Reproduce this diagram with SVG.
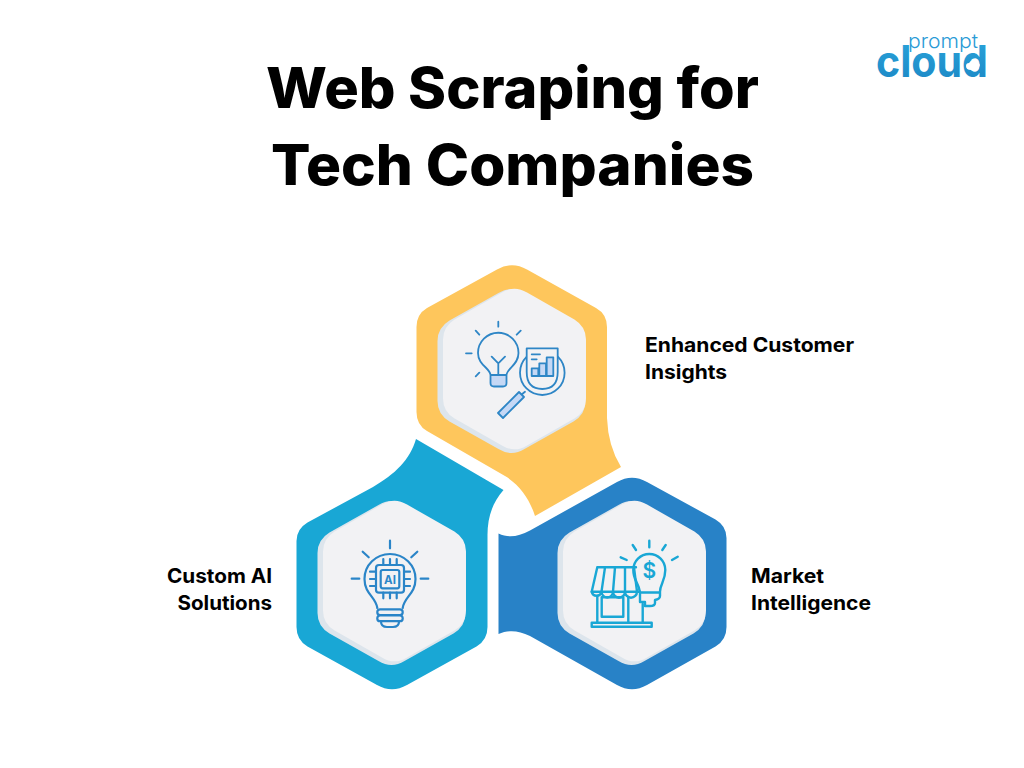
<svg xmlns="http://www.w3.org/2000/svg" width="1024" height="768" viewBox="0 0 1024 768">
<defs>
<linearGradient id="lg" x1="0" y1="0" x2="0" y2="1"><stop offset="0" stop-color="#2ba6dc"/><stop offset="1" stop-color="#1b86c4"/></linearGradient>
<path id="inner" d="M-13 -78Q0 -86 13 -78L62 -50.500Q74 -43.300 74 -30V30Q74 43.300 62 50.500L13 78Q0 86 -13 78L-62 50.500Q-74 43.300 -74 30V-30Q-74 -43.300 -62 -50.500Z"/>
</defs>
<style>
text{font-family:"Inter","Liberation Sans",sans-serif;fill:#000}
.t{font-size:56px;font-weight:800}
.l{font-size:20px;font-weight:700}
.plate{fill:#f2f2f4}
.shade{fill:#dde5ec}
.i{fill:none;stroke-width:1.8;stroke-linecap:round;stroke-linejoin:round}
.a{stroke:#2e86c6}
.b{stroke:#2a85c8;stroke-width:2.2}
.c{stroke:#19a7d5;stroke-width:2.4}
.f{fill:#c5d8f5}
</style>
<rect width="1024" height="768" fill="#fff"/>
<g id="title">
<text class="t" x="266" y="108" textLength="493" lengthAdjust="spacingAndGlyphs">Web Scraping for</text>
<text class="t" x="271" y="185" textLength="483" lengthAdjust="spacingAndGlyphs">Tech Companies</text>
</g>
<g id="logo">
<text x="876" y="76.500" font-size="44" font-weight="700" style="fill:url(#lg)" textLength="112" lengthAdjust="spacingAndGlyphs">cloud</text>
<text x="908" y="48" font-size="20" font-weight="300" style="fill:#2a9bd6" textLength="70" lengthAdjust="spacingAndGlyphs">prompt</text>
<path d="M966 66q0-3 3-3q2-3 5-2q3-1 4 2q3 1 1 4q0 3-4 3q-2 1-4 0q-5 0-5-4Z" fill="#fff"/>
</g>
<g id="node-insights">
<path fill="#fec65c" d="M497 269.500Q512 261 527 269.500L596 308Q607 314.200 607 327V418Q608 446 621 467L535 516C530 500 520 485 505 476L427 431Q416.500 425 416.500 412V327Q416.500 314.200 427 308Z"/>
<use href="#inner" class="shade" transform="translate(511.500 371)"/>
<use href="#inner" class="plate" transform="translate(514.500 369) scale(.966 .98)"/>
<g class="i a">
<path class="f" stroke="none" d="M490.500 375H506V383Q506 386.500 503 386.500H493Q490.500 386.500 490.500 383Z"/>
<path d="M490.500 375C490 368 478 365 478 353A20 20 0 0 1 518.500 353C518.500 365 507 368 506.500 375ZM490.500 375V383Q490.500 386.500 494 386.500H503Q506.500 386.500 506.500 383V375M498.300 375V363.300L491.700 356.700M498.300 363.300L505 356.700M498.300 321.700V326.700M475.700 330.700L479.300 334.700M520.700 330.700L516.700 334.700M466 353.300H471.700M475.700 376.300L479.300 372.700"/>
<circle cx="542.300" cy="372.700" r="22.300"/>
<path d="M526.700 348.300H557.700V372Q557.700 389 542.300 389Q526.700 389 526.700 372Z" fill="#f2f2f4"/>
<path d="M531.700 354.300H540M531.700 359.300H536.700M525 391.700L521 395"/>
<path class="f" d="M531.700 368.300H538.300V376H531.700ZM539.300 363.300H546V376H539.300ZM546.700 357.300H553.300V376H546.700Z"/>
<path class="f" d="M519 392L524 397L503 418L498 413Z"/>
</g>
</g>
<g id="node-ai">
<path fill="#19a7d5" d="M416 439L503.500 490C492 503 487.500 518 487.500 535V627Q487.500 640 476.500 646.500L407 685Q392 693.500 377 685L307.500 646.500Q296.500 640 296.500 627V541Q296.500 529 307.500 522.500L373 487C395 474 410 460 416 439Z"/>
<use href="#inner" class="shade" transform="translate(391.500 583)"/>
<use href="#inner" class="plate" transform="translate(394.500 581) scale(.966 .98)"/>
<g class="i b">
<path d="M390 540.700V548.300M362.700 551.700L368.700 557.300M417.300 551.700L411.300 557.300M351.700 578.700H359.300M420.700 578.700H428.300"/>
<path d="M377.300 608C376 597 364.500 594 364.500 579A25.500 25 0 0 1 415.500 579C415.500 594 404 597 402.700 608"/>
<rect x="377.300" y="609.300" width="25.400" height="5.700" rx="2.800"/>
<rect x="377.300" y="615.500" width="25.400" height="5.700" rx="2.800"/>
<path d="M381 621.500Q381 627 387 627H393Q399 627 399 621.500"/>
<rect x="376" y="565" width="28" height="27.700" rx="3"/>
<rect x="380.700" y="570" width="18.600" height="18.300" rx="2"/>
<path d="M383.300 559V565M390 559V565M396.700 559V565M383.300 592.700V598.300M390 592.700V598.300M396.700 592.700V598.300M370 571.700H376M370 579H376M370 586H376M404 571.700H410M404 579H410M404 586H410"/>
</g>
<text x="390" y="583.500" font-size="11.500" font-weight="700" text-anchor="middle" style="fill:#2a85c8">AI</text>
</g>
<g id="node-market">
<path fill="#2882c7" d="M617 482Q632 473.500 647 482L715.500 519.500Q726.500 526 726.500 538V627Q726.500 640 715.500 646.500L647 685Q632 693.500 617 685L530 636C518 630 508 630 498.500 634V533.500C508 538 518 537 530 530.500Z"/>
<use href="#inner" class="shade" transform="translate(631.500 583)"/>
<use href="#inner" class="plate" transform="translate(634.500 581) scale(.966 .98)"/>
<g class="i c">
<path d="M649.300 540.700V547.300M632.700 545L636 550M665.700 545L662.300 550M620.700 557.300L626.700 560M677.700 556.700L672 560"/>
<path d="M640 592.500C639 583 633.300 581 633.300 570A16 16 0 0 1 665.300 570C665.300 581 660 584 660 591.700V596Q660 599 655 600V603Q655 606 650 606H645V602H640ZM640 592.500H660"/>
<path d="M597.300 567.300H636M597.300 567.300L591.700 591.700M591.700 591.700H640M605 567.300L601.500 591.700M615 567.300L613 591.700M625 567.300L625 591.700M634 567.300L637 591.700"/>
<path d="M591.700 591.700A5 5 0 0 0 601.500 591.700A5.700 5.700 0 0 0 613 591.700A6 6 0 0 0 625 591.700A6 6 0 0 0 637 591.700"/>
<path d="M597.300 596V622.700M642.700 604V622.700M628.300 597V622.700"/>
<rect x="601.700" y="597.300" width="21.600" height="19.400"/>
<rect x="591.700" y="622.700" width="60" height="4"/>
</g>
<text x="649.300" y="578" font-size="21" font-weight="600" text-anchor="middle" style="fill:#19a7d5">$</text>
</g>
<g id="labels">
<text class="l" x="645" y="352" textLength="209" lengthAdjust="spacingAndGlyphs">Enhanced Customer</text>
<text class="l" x="645" y="379" textLength="82" lengthAdjust="spacingAndGlyphs">Insights</text>
<text class="l" x="167" y="583" textLength="105" lengthAdjust="spacingAndGlyphs">Custom AI</text>
<text class="l" x="177.500" y="610" textLength="94.500" lengthAdjust="spacingAndGlyphs">Solutions</text>
<text class="l" x="751" y="583" textLength="73" lengthAdjust="spacingAndGlyphs">Market</text>
<text class="l" x="751" y="610" textLength="120" lengthAdjust="spacingAndGlyphs">Intelligence</text>
</g>
</svg>
